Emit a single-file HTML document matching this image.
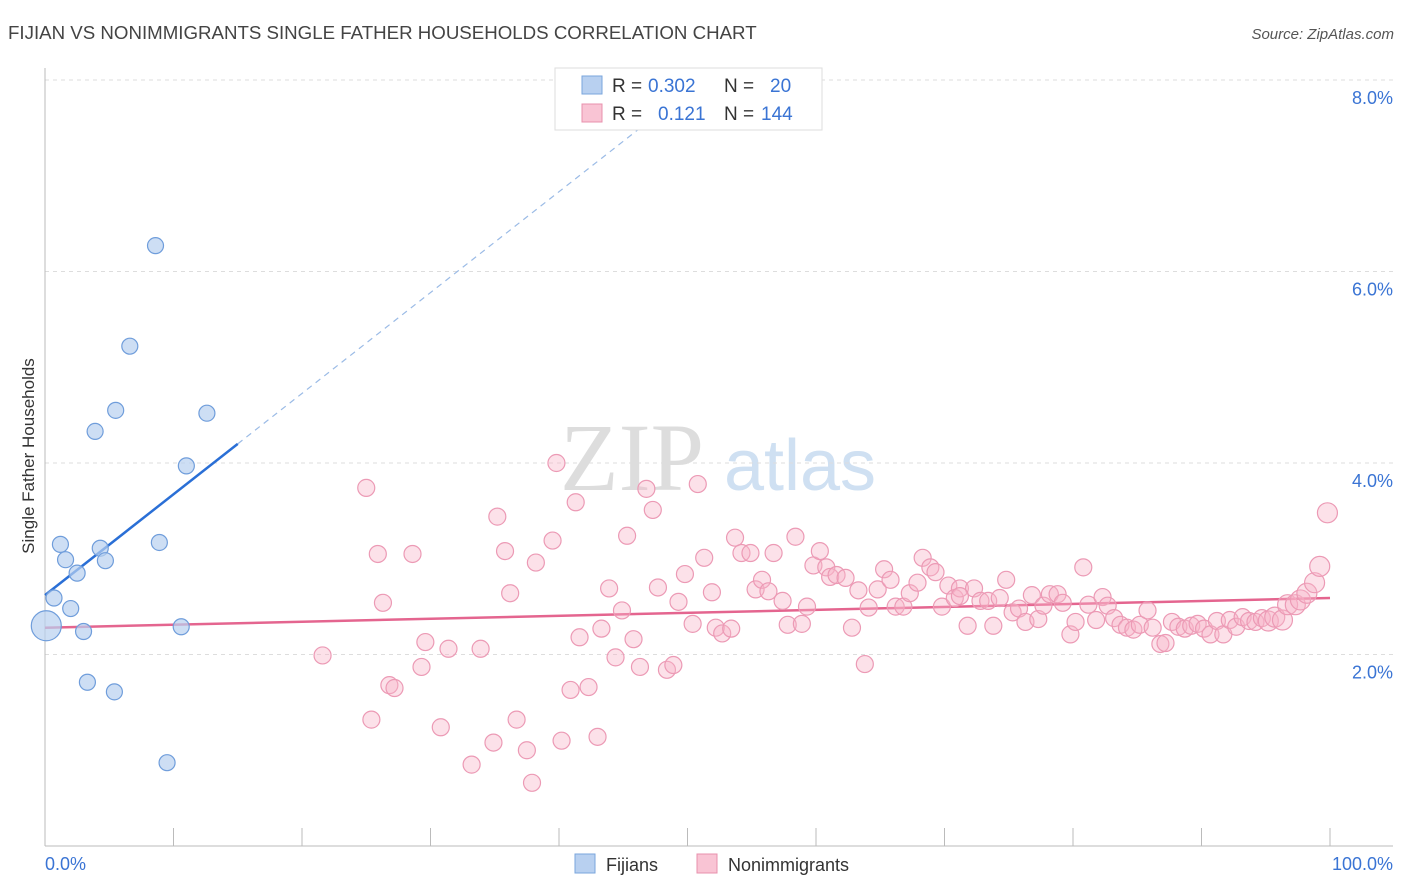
<!DOCTYPE html>
<html><head><meta charset="utf-8"><style>
body{margin:0;background:#fff;font-family:"Liberation Sans",sans-serif}
svg{display:block}
</style></head><body>
<svg id="chart" width="1406" height="892" xmlns="http://www.w3.org/2000/svg">
<text x="8" y="39" font-size="18.7" fill="#444">FIJIAN VS NONIMMIGRANTS SINGLE FATHER HOUSEHOLDS CORRELATION CHART</text>
<text x="1394" y="39" font-size="15" fill="#555" text-anchor="end" font-style="italic">Source: ZipAtlas.com</text>
<g><text x="632" y="490" font-size="96" fill="#ddd" font-family="Liberation Serif,serif" text-anchor="middle">ZIP</text><text x="800" y="490" font-size="72" fill="#cfe0f2" text-anchor="middle">atlas</text></g>
<g id="grid"></g><g id="axes"></g><g id="trend"></g><g id="pts"></g>
<text x="34" y="456" font-size="17" fill="#333" text-anchor="middle" transform="rotate(-90 34 456)">Single Father Households</text>
<g>
<rect x="555" y="68" width="267" height="62" fill="#fff" stroke="#ddd"/>
<rect x="582" y="76" width="20" height="18" fill="#b8d0f0" stroke="#7aa6dc"/>
<text x="612" y="92" font-size="19" fill="#333">R =</text>
<text x="648" y="92" font-size="19" fill="#3a74d4">0.302</text>
<text x="724" y="92" font-size="19" fill="#333">N =</text>
<text x="770" y="92" font-size="19" fill="#3a74d4">20</text>
<rect x="582" y="104" width="20" height="18" fill="#f9c4d4" stroke="#e890ad"/>
<text x="612" y="120" font-size="19" fill="#333">R =</text>
<text x="658" y="120" font-size="19" fill="#3a74d4">0.121</text>
<text x="724" y="120" font-size="19" fill="#333">N =</text>
<text x="761" y="120" font-size="19" fill="#3a74d4">144</text>
</g>
<g>
<rect x="575" y="854" width="20" height="19" fill="#b8d0f0" stroke="#7aa6dc"/>
<text x="606" y="871" font-size="18" fill="#333">Fijians</text>
<rect x="697" y="854" width="20" height="19" fill="#f9c4d4" stroke="#e890ad"/>
<text x="728" y="871" font-size="18" fill="#333">Nonimmigrants</text>
</g>
</svg>
<script>
const fijX=[8.6,6.6,5.5,3.9,12.6,11.0,1.2,4.3,8.9,1.6,4.7,2.5,0.7,2.0,3.0,10.6,0.1,3.3,5.4,9.5];
const fijY=[6.27,5.22,4.55,4.33,4.52,3.97,3.15,3.11,3.17,2.99,2.98,2.85,2.59,2.48,2.24,2.29,2.30,1.71,1.61,0.87];
const nonX=[25.0,25.9,26.3,28.6,21.6,25.4,26.8,27.2,29.3,29.6,30.8,31.4,33.2,33.9,34.9,35.2,35.8,36.2,36.7,37.5,37.9,38.2,39.5,39.8,40.2,40.9,41.3,41.6,42.3,43.0,43.3,43.9,44.4,44.9,45.3,45.8,46.3,46.8,47.3,47.7,48.4,48.9,49.3,49.8,50.4,50.8,51.3,51.9,52.2,52.7,53.4,53.7,54.2,54.9,55.3,55.8,56.3,56.7,57.4,57.8,58.4,58.9,59.3,59.8,60.3,60.8,61.1,61.6,62.3,62.8,63.3,63.8,64.1,64.8,65.3,65.8,66.2,66.8,67.3,67.9,68.3,68.9,69.3,69.8,70.3,70.8,71.2,71.8,72.3,72.8,73.4,73.8,74.3,74.8,75.3,75.8,76.3,76.8,77.3,77.7,78.2,78.8,79.2,79.8,80.2,80.8,81.2,81.8,82.3,82.7,83.2,83.7,84.2,84.7,85.2,85.8,86.2,86.8,87.2,87.7,88.2,88.7,89.2,89.7,90.2,90.7,91.2,91.7,92.2,92.7,93.2,93.7,94.2,94.7,95.2,95.7,96.3,96.7,97.3,97.7,98.2,98.8,99.2,99.8,71.2];
const nonY=[3.74,3.05,2.54,3.05,1.99,1.32,1.68,1.65,1.87,2.13,1.24,2.06,0.85,2.06,1.08,3.44,3.08,2.64,1.32,1.00,0.66,2.96,3.19,4.00,1.10,1.63,3.59,2.18,1.66,1.14,2.27,2.69,1.97,2.46,3.24,2.16,1.87,3.73,3.51,2.70,1.84,1.89,2.55,2.84,2.32,3.78,3.01,2.65,2.28,2.22,2.27,3.22,3.06,3.06,2.68,2.78,2.66,3.06,2.56,2.31,3.23,2.32,2.50,2.93,3.08,2.91,2.81,2.83,2.80,2.28,2.67,1.90,2.49,2.68,2.89,2.78,2.50,2.50,2.64,2.75,3.01,2.91,2.86,2.50,2.72,2.59,2.69,2.30,2.69,2.56,2.56,2.30,2.59,2.78,2.44,2.48,2.34,2.62,2.37,2.51,2.63,2.63,2.54,2.21,2.34,2.91,2.52,2.36,2.60,2.51,2.38,2.31,2.28,2.26,2.31,2.46,2.28,2.11,2.12,2.34,2.29,2.27,2.30,2.32,2.27,2.21,2.35,2.21,2.36,2.29,2.39,2.35,2.34,2.38,2.35,2.39,2.36,2.52,2.52,2.57,2.64,2.75,2.92,3.48,2.61];
const yTicks=[2,4,6,8];
const xTickLabels=["0.0%","100.0%"];
const fijTrend=[2.62,4.20]; // at x=0 and x=15
const nonTrend=[2.28,2.59]; // at x=0 and x=100
const X=v=>45+v*12.85, Y=v=>846-v*95.75;
const NS="http://www.w3.org/2000/svg";
function mk(parent,tag,attrs){const e=document.createElementNS(NS,tag);for(const k in attrs)e.setAttribute(k,attrs[k]);document.getElementById(parent).appendChild(e);return e;}
yTicks.forEach(t=>{
 const l=mk('grid','line',{x1:45,x2:1393,y1:Y(t),y2:Y(t),stroke:'#ddd','stroke-dasharray':'4 4'});
 
 
 const tx=mk('grid','text',{x:1393,y:Y(t)+24,'font-size':18,fill:'#3a74d4','text-anchor':'end'});
 tx.textContent=t.toFixed(1)+'%';
 
 
});
const ax=mk('axes','line',{x1:45,x2:1393,y1:846,y2:846,stroke:'#bbb'});


const ay=mk('axes','line',{x1:45,x2:45,y1:68,y2:846,stroke:'#bbb'});


for(let i=1;i<=10;i++){const t=mk('axes','line',{x1:X(i*10),x2:X(i*10),y1:828,y2:846,stroke:'#bbb'});
 
 }
[0,100].forEach((v,i)=>{const t=mk('axes','text',{x:v?1393:45,y:870,'font-size':18,fill:'#3a74d4','text-anchor':v?'end':'start'});
 t.textContent=xTickLabels[i];
 
 });
nonX.forEach((x,i)=>{const c=mk('pts','circle',{cx:X(x),cy:Y(nonY[i]),r:(x>95)?10:8.5,fill:'rgba(248,180,200,0.4)',stroke:'#ec9ab5','stroke-width':1.2});
 
 });
fijX.forEach((x,i)=>{const c=mk('pts','circle',{cx:X(x),cy:Y(fijY[i]),r:i==16?15:8,fill:'rgba(184,208,240,0.7)',stroke:'#6f9ddb','stroke-width':1.2});
 
 });
const slope=(fijTrend[1]-fijTrend[0])/15;
const b1=mk('trend','line',{x1:X(0),y1:Y(fijTrend[0]),x2:X(15),y2:Y(fijTrend[1]),stroke:'#2a6fd6','stroke-width':2.5});


const xe=(7.55-fijTrend[0])/slope;
const b2=mk('trend','line',{x1:X(15),y1:Y(fijTrend[1]),x2:X(xe),y2:Y(7.55),stroke:'#9bbbe6','stroke-width':1.2,'stroke-dasharray':'6 5'});


const p=mk('trend','line',{x1:X(0),y1:Y(nonTrend[0]),x2:X(100),y2:Y(nonTrend[1]),stroke:'#e4658f','stroke-width':2.5});


</script>
</body></html>
